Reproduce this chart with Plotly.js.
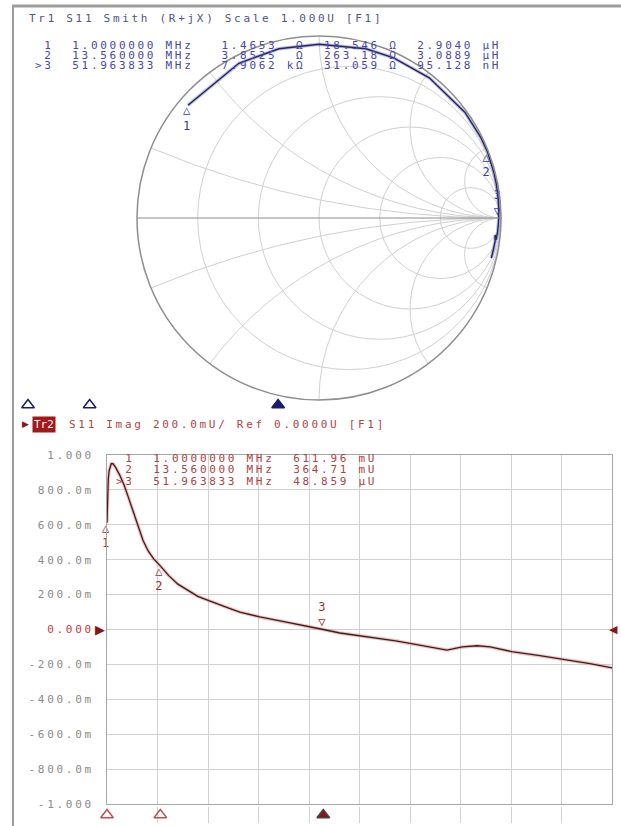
<!DOCTYPE html>
<html>
<head>
<meta charset="utf-8">
<script src="https://cdn.plot.ly/plotly-3.0.1.min.js"></script>
<style>
  html, body { margin: 0; padding: 0; background: #ffffff; }
  #chart { width: 621px; height: 826px; }
  .annotation-text, .ytick text, .textpoint text { letter-spacing: 2.7px; }
</style>
</head>
<body>
<div id="chart"></div>
<script>
// ---------------- DATA ----------------
const Z0 = 50;
// Smith trace (Tr1, S11) : impedance R + jX in ohms vs frequency (MHz)
const smithFreqMHz = [1.0, 1.3, 1.7, 2.4, 3.0, 4.06, 5.95, 8.3, 10.7, 13.56, 17.7, 22.4, 27.6, 32.3, 41.8, 51.963833, 60.6, 72.4, 81.1, 88.2, 96.4, 108.5, 120.0];
const smithROhm = [1.4653, 1.50, 1.84, 2.30, 2.43, 2.56, 2.65, 2.65, 3.39, 3.8525, 10.9, 21.7, 44.9, 97.3, 412.7, 7906.2, 966, 234, 130.7, 284, 138, 83.9, 53.9];
const smithXOhm = [18.546, 30.4, 39.52, 49.95, 65.7, 78.4, 102.9, 154.5, 213.9, 263.18, 390.5, 516, 701, 978, 1886, 31.059, -2433, -1182, -792, -958, -740, -556, -429.4];

// Rectangular trace (Tr2, S11 Imag) vs frequency (MHz)
const freqMHz = [1.0, 1.15, 1.3, 1.5, 1.7, 2.0, 2.4, 3.0, 4.0, 5.0, 6.0, 7.0, 8.3, 9.5, 10.7, 12.0, 13.56, 15.5, 17.7, 20.0, 22.4, 25.0, 27.6, 30.0, 32.3, 37.0, 41.8, 46.5, 51.963833, 55.9, 60.6, 65.3, 69.0, 72.4, 77.1, 81.1, 84.7, 88.2, 91.3, 96.4, 103.0, 108.5, 114.8, 120.0];
const imagS11 = [0.61196, 0.78, 0.86, 0.91, 0.935, 0.95, 0.95, 0.93, 0.885, 0.83, 0.76, 0.69, 0.59, 0.51, 0.45, 0.405, 0.36471, 0.31, 0.26, 0.225, 0.19, 0.165, 0.14, 0.12, 0.10, 0.072, 0.05, 0.025, 0.000048859, -0.02, -0.035, -0.05, -0.065, -0.08, -0.10, -0.118, -0.10, -0.093, -0.10, -0.127, -0.15, -0.17, -0.195, -0.22];

// Markers
const markerIds = [' 1', ' 2', '>3'];
const markerFreqMHz = [1.0, 13.56, 51.963833];
const markerROhm = [1.4653, 3.8525, 7906.2];
const markerXOhm = [18.546, 263.18, 31.059];
const markerLHenry = [2.9040e-6, 3.0889e-6, 95.128e-9];
const markerImagU = [0.61196, 0.36471, 0.000048859];
const markerActive = [false, false, true];

// Axis settings
const stimStartMHz = 1.0, stimStopMHz = 120.0, stimDivs = 10;
const yTickVals = [1, 0.8, 0.6, 0.4, 0.2, 0, -0.2, -0.4, -0.6, -0.8, -1];
const yTickLabels = ['1.000', '800.0m', '600.0m', '400.0m', '200.0m', '0.000', '-200.0m', '-400.0m', '-600.0m', '-800.0m', '-1.000'];
const refLevel = 0;
const smithGridR = [0.2, 0.5, 1, 2, 5];
const smithGridX = [-5, -2, -1, -0.5, -0.2, 0.2, 0.5, 1, 2, 5];

// Texts
const tr1Title = 'Tr1 S11 Smith (R+jX) Scale 1.000U [F1]';
const tr2Name = 'Tr2';
const tr2Title = 'S11 Imag 200.0mU/ Ref 0.0000U [F1]';

// ---------------- HELPERS ----------------
const W = 621, H = 826;
const px = v => v / W;
const py = v => 1 - v / H;
const MONO = 'DejaVu Sans Mono, Liberation Mono, monospace';
const NB = s => s.replace(/ /g, '\u00A0');

function eng(v) {
  const pre = [[1e3, 'k'], [1, ''], [1e-3, 'm'], [1e-6, '\u00B5'], [1e-9, 'n']];
  for (const p of pre) if (Math.abs(v) >= p[0]) return [(v / p[0]).toPrecision(5), p[1]];
  return [v.toPrecision(5), ''];
}

const OMEGA = '\u03A9';
const smithRows = markerIds.map((id, i) => {
  const f = markerFreqMHz[i].toPrecision(8);
  const r = eng(markerROhm[i]);
  const x = eng(markerXOhm[i]);
  const l = eng(markerLHenry[i]);
  return id + '  ' + f + ' MHz   ' + r[0].padStart(6) + ' ' + (r[1] + OMEGA).padStart(2) + '  ' +
         x[0].padStart(6) + ' ' + OMEGA + '  ' + l[0].padStart(6) + ' ' + l[1] + 'H';
});
const rectRows = markerIds.map((id, i) => {
  const f = markerFreqMHz[i].toPrecision(8);
  const v = eng(markerImagU[i]);
  return id + '  ' + f + ' MHz  ' + v[0].padStart(6) + ' ' + v[1] + 'U';
});
const markerLabels = markerIds.map((id, i) => markerActive[i] ? id.trim().replace('>', '') + '<br>\u25BD' : '\u25B3<br>' + id.trim());
const markerTextPos = markerActive.map(a => a ? 'top center' : 'bottom center');

// ---------------- TRACES ----------------
const smithBlue = '#3a3aa2';
const darkRed = '#8e1414';
const lowerText = '#ad4646';

const traces = [
  { type: 'scattersmith', real: smithROhm.map(v => v / Z0), imag: smithXOhm.map(v => v / Z0),
    mode: 'lines', line: { color: 'rgba(110,110,215,0.45)', width: 3.5 }, hoverinfo: 'skip', showlegend: false },
  { type: 'scattersmith', real: smithROhm.map(v => v / Z0), imag: smithXOhm.map(v => v / Z0),
    mode: 'lines', line: { color: '#25255c', width: 1.4 }, hoverinfo: 'skip', showlegend: false },
  { type: 'scattersmith', real: markerROhm.map(v => v / Z0), imag: markerXOhm.map(v => v / Z0),
    mode: 'text', text: markerLabels, textposition: markerTextPos,
    textfont: { family: MONO, size: 12, color: smithBlue }, hoverinfo: 'skip', showlegend: false },

  { type: 'scatter', x: freqMHz, y: imagS11, mode: 'lines',
    line: { color: 'rgba(232,140,140,0.55)', width: 3.5 }, hoverinfo: 'skip', showlegend: false },
  { type: 'scatter', x: freqMHz, y: imagS11, mode: 'lines',
    line: { color: '#3e1e1e', width: 1.3 }, hoverinfo: 'skip', showlegend: false },
  { type: 'scatter', x: markerFreqMHz, y: markerImagU, mode: 'text', text: markerLabels,
    textposition: markerTextPos, textfont: { family: MONO, size: 12, color: '#9c3030' },
    hoverinfo: 'skip', showlegend: false, cliponaxis: false },

  // stimulus marker triangles for Tr1 (above lower title)
  { type: 'scatter', x: markerFreqMHz, y: markerFreqMHz.map(() => 0), xaxis: 'x2', yaxis: 'y2',
    mode: 'markers', marker: { symbol: markerActive.map(a => a ? 'triangle-up' : 'triangle-up-open'),
      size: 11, color: '#1c1c6e', line: { width: 1.5, color: '#1c1c6e' } },
    hoverinfo: 'skip', showlegend: false, cliponaxis: false },
  // stimulus marker triangles for Tr2 (below lower plot)
  { type: 'scatter', x: markerFreqMHz, y: markerFreqMHz.map(() => 0), xaxis: 'x', yaxis: 'y3',
    mode: 'markers', marker: { symbol: markerActive.map(a => a ? 'triangle-up' : 'triangle-up-open'),
      size: 11, color: markerActive.map(a => a ? darkRed : '#c05050'), line: { width: 1.5 } },
    hoverinfo: 'skip', showlegend: false, cliponaxis: false }
];

// ---------------- ANNOTATIONS ----------------
const ann = [];
ann.push({ xref: 'paper', yref: 'paper', x: px(27), y: py(18), xanchor: 'left', yanchor: 'middle',
  text: NB(tr1Title), showarrow: false, font: { family: MONO, size: 11, color: '#4e5682' } });
smithRows.forEach((r, i) => ann.push({ xref: 'paper', yref: 'paper', x: px(33), y: py(45 + i * 10.5),
  xanchor: 'left', yanchor: 'middle', text: NB(r), showarrow: false,
  font: { family: MONO, size: 11, color: '#4848a8' } }));

ann.push({ xref: 'paper', yref: 'paper', x: px(31), y: py(424), xanchor: 'right', yanchor: 'middle',
  text: '<span style="letter-spacing:0px">\u25B6</span>', showarrow: false, font: { family: 'DejaVu Sans', size: 9, color: darkRed } });
ann.push({ xref: 'paper', yref: 'paper', x: px(32), y: py(424), xanchor: 'left', yanchor: 'middle',
  text: '<span style="letter-spacing:0px">' + tr2Name + '</span>', showarrow: false, bgcolor: '#a3181a', borderpad: 1,
  font: { family: MONO, size: 11, color: '#ffffff' } });
ann.push({ xref: 'paper', yref: 'paper', x: px(67), y: py(424), xanchor: 'left', yanchor: 'middle',
  text: NB(tr2Title), showarrow: false, font: { family: MONO, size: 11, color: lowerText } });
rectRows.forEach((r, i) => ann.push({ xref: 'paper', yref: 'paper', x: px(114), y: py(458 + i * 11.5),
  xanchor: 'left', yanchor: 'middle', text: NB(r), showarrow: false,
  font: { family: MONO, size: 11, color: '#a84444' } }));

// reference level markers
ann.push({ xref: 'paper', yref: 'y', x: px(107), y: refLevel, xanchor: 'right', yanchor: 'middle',
  text: '<span style="letter-spacing:0px">\u25B6</span>', showarrow: false, font: { family: 'DejaVu Sans', size: 13, color: darkRed } });
ann.push({ xref: 'paper', yref: 'paper', x: px(620), y: py(629), xanchor: 'right', yanchor: 'middle',
  text: '<span style="letter-spacing:0px">\u25C0</span>', showarrow: false, font: { family: 'DejaVu Sans', size: 11, color: darkRed } });

// ---------------- LAYOUT ----------------
const tickText = yTickLabels.map((t, i) => yTickVals[i] === refLevel ? '<span style="color:#c23c3c">' + t + '</span>' : t);
const dtick = (stimStopMHz - stimStartMHz) / stimDivs;

const layout = {
  width: W, height: H,
  margin: { l: 0, r: 0, t: 0, b: 0 },
  paper_bgcolor: '#ffffff', plot_bgcolor: '#ffffff',
  showlegend: false,
  smith: {
    domain: { x: [px(137), px(501)], y: [py(400), py(36)] },
    bgcolor: '#ffffff',
    realaxis: { tickvals: smithGridR, showticklabels: false, ticks: '', gridcolor: '#d0d0d0', gridwidth: 1,
      showline: true, linecolor: '#8e8e8e', linewidth: 1.2 },
    imaginaryaxis: { tickvals: smithGridX, showticklabels: false, ticks: '', gridcolor: '#d0d0d0', gridwidth: 1,
      showline: true, linecolor: '#8e8e8e', linewidth: 1.5 }
  },
  xaxis: { domain: [px(107), px(612)], range: [stimStartMHz, stimStopMHz], tick0: stimStartMHz, dtick: dtick,
    showticklabels: false, ticks: '', showgrid: true, gridcolor: '#d0d0d0', zeroline: false,
    showline: true, mirror: true, linecolor: '#a6a6a6', linewidth: 1, anchor: 'y', fixedrange: true },
  yaxis: { domain: [py(804), py(455)], range: [-1, 1], tickvals: yTickVals, ticktext: tickText,
    tickfont: { family: MONO, size: 11, color: '#8a8a8a' }, ticks: '', ticklabelstandoff: 10,
    showgrid: true, gridcolor: '#d0d0d0', zeroline: false,
    showline: true, mirror: true, linecolor: '#a6a6a6', linewidth: 1, anchor: 'x', fixedrange: true },
  xaxis2: { domain: [px(28), px(612)], range: [stimStartMHz, stimStopMHz], anchor: 'y2', visible: false, fixedrange: true },
  yaxis2: { domain: [py(413), py(397)], range: [-1, 1], anchor: 'x2', visible: false, fixedrange: true },
  yaxis3: { domain: [py(823), py(807)], range: [-1, 1], anchor: 'x', visible: false, fixedrange: true },
  annotations: ann,
  shapes: [
    { type: 'line', xref: 'paper', yref: 'paper', x0: px(12), x1: 1.01, y0: py(6), y1: py(6),
      line: { color: '#9c9c9c', width: 3 } },
    { type: 'line', xref: 'paper', yref: 'paper', x0: px(13), x1: px(13), y0: py(6), y1: -0.01,
      line: { color: '#9c9c9c', width: 2 } }
  ]
};

Plotly.newPlot('chart', traces, layout, { staticPlot: true, displayModeBar: false });
</script>
</body>
</html>
